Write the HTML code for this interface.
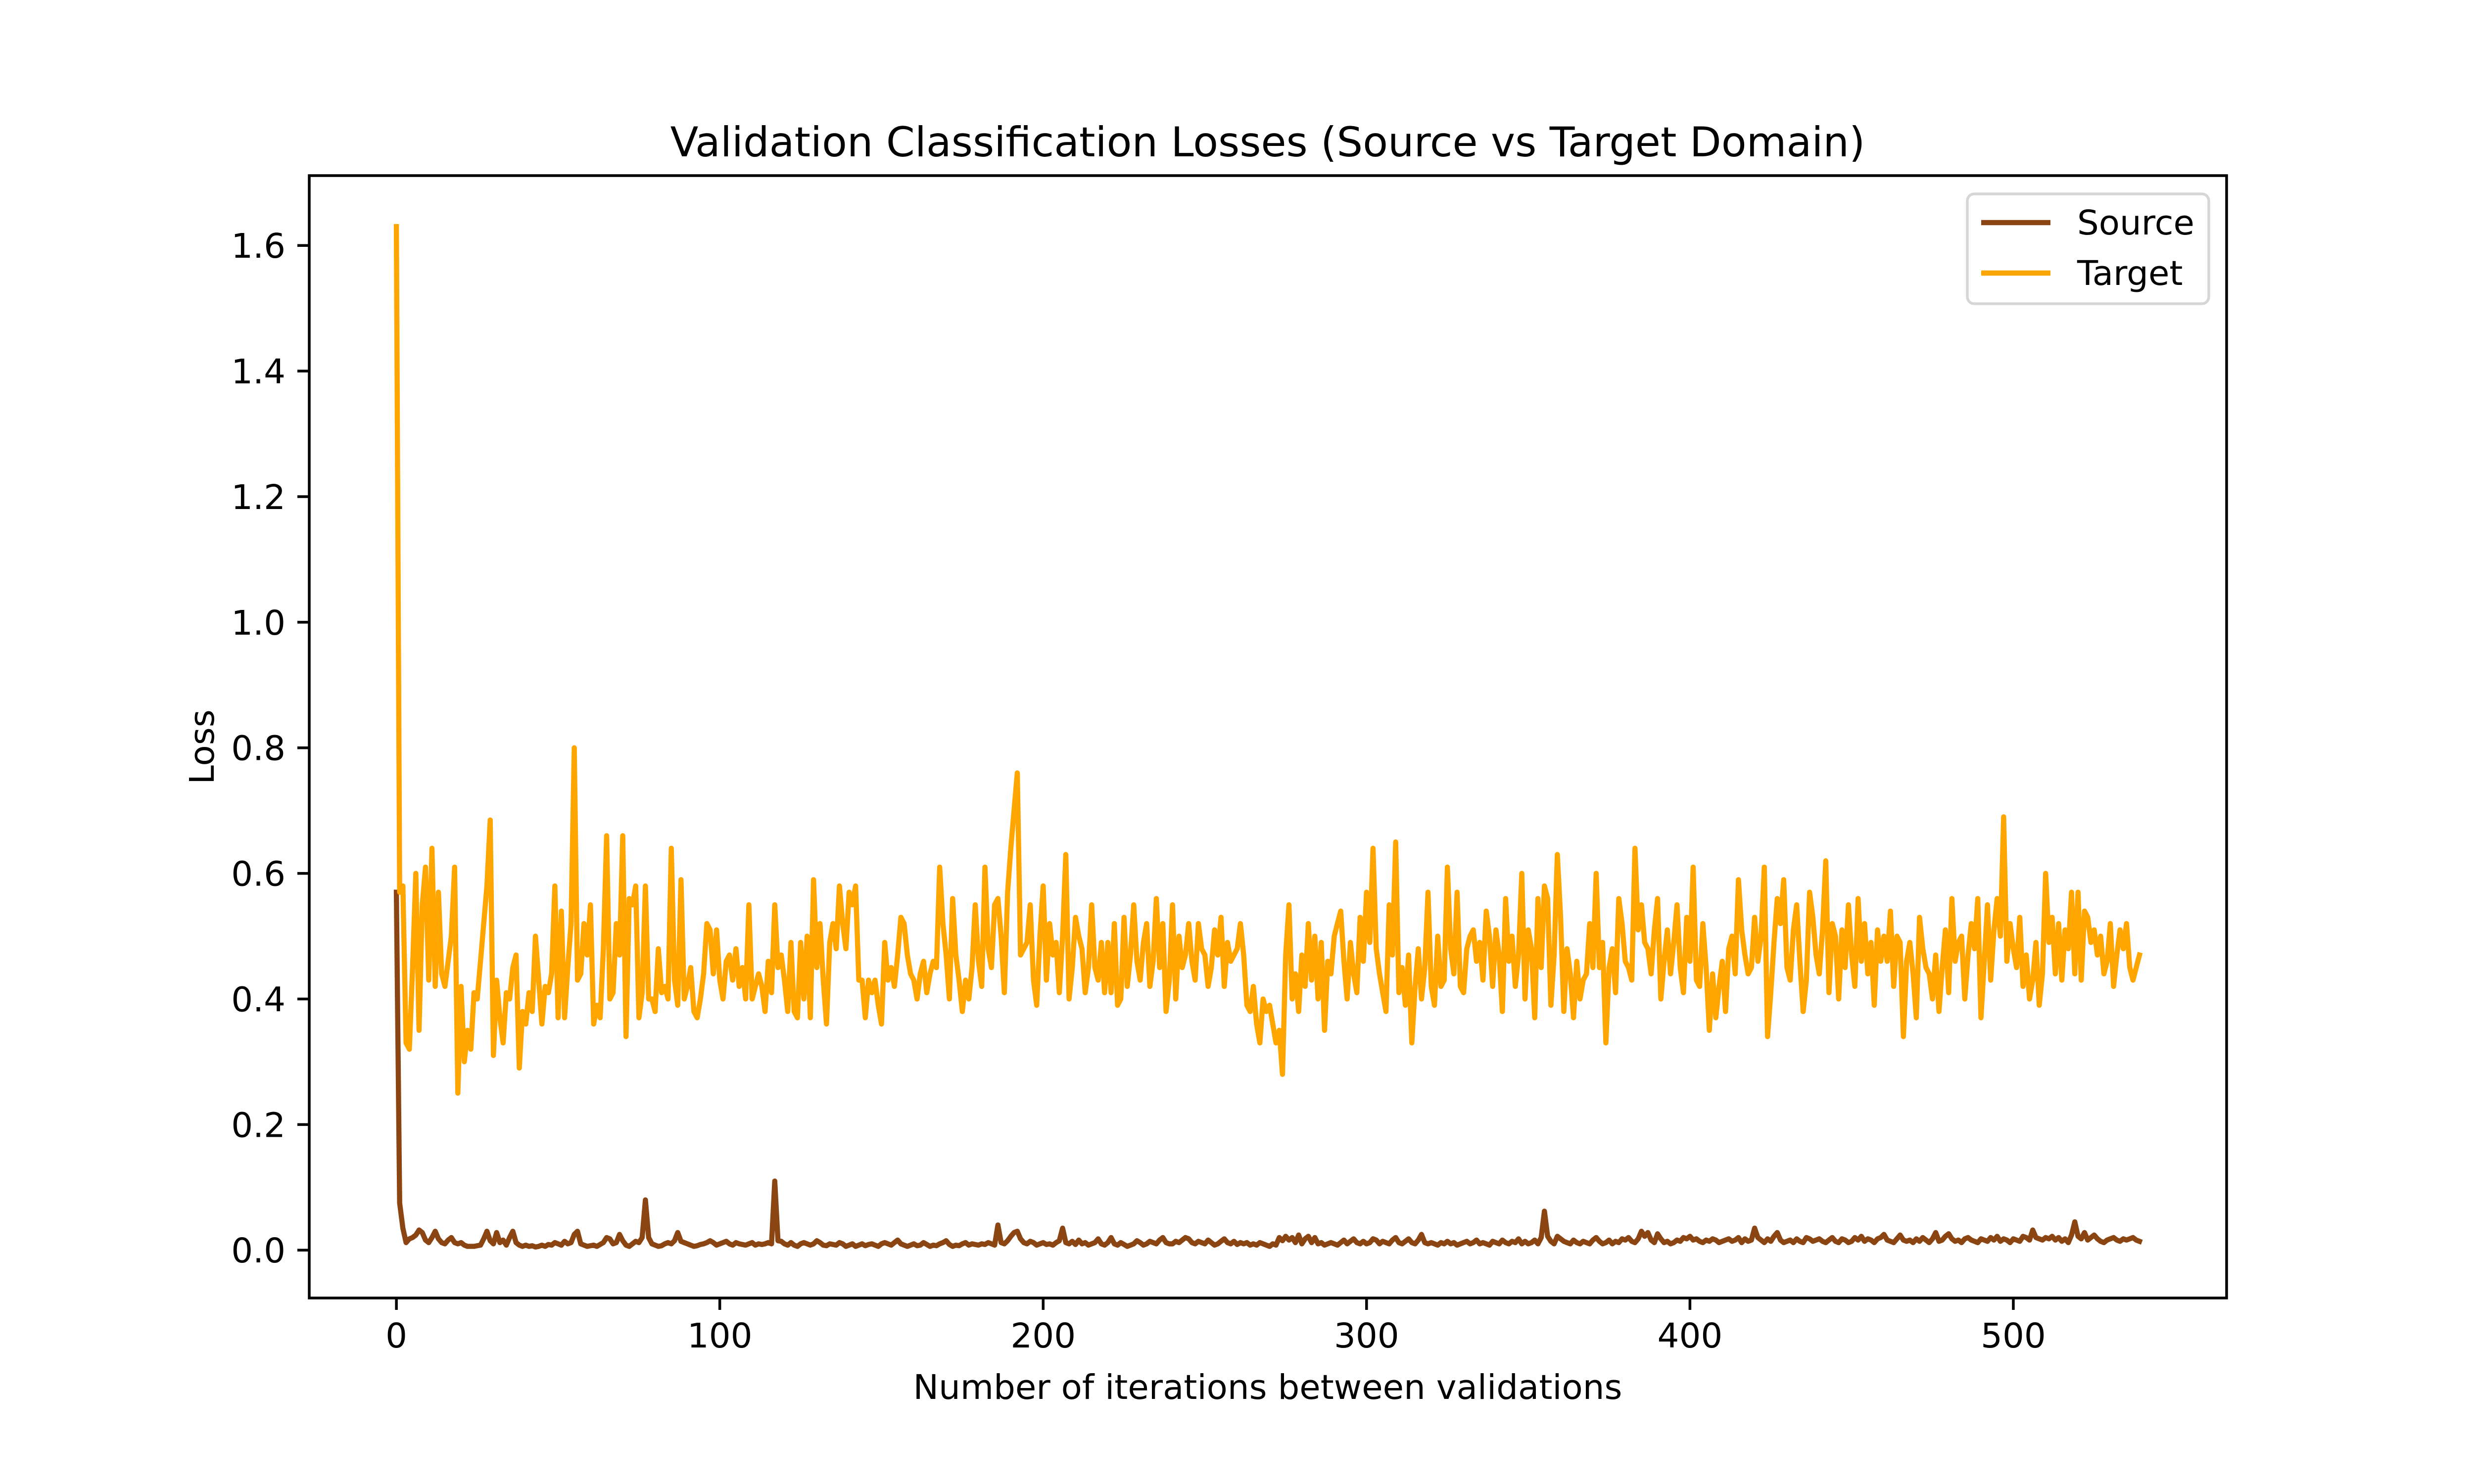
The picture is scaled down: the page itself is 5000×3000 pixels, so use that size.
<!DOCTYPE html>
<html><head><meta charset="utf-8">
<style>
html,body{margin:0;padding:0;background:#fff;}
svg{display:block;font-family:"DejaVu Sans","Liberation Sans",sans-serif;}
</style></head>
<body>
<svg id="chart" width="5000" height="3000" viewBox="0 0 5000 3000" xmlns="http://www.w3.org/2000/svg">
<rect width="5000" height="3000" fill="#fff"/>
<text x="2562" y="316" font-size="83" text-anchor="middle">Validation Classification Losses (Source vs Target Domain)</text>
<g id="plot"></g>
<text x="2562" y="2828" font-size="69" text-anchor="middle">Number of iterations between validations</text>
<text x="0" y="0" font-size="69" text-anchor="middle" transform="translate(432,1510) rotate(-90)">Loss</text>
<g>
<rect x="3976" y="392" width="488" height="222" rx="14" fill="#fff" stroke="#d6d6d6" stroke-width="5.5"/>
<line x1="4004" y1="450" x2="4144" y2="450" stroke="#8B4513" stroke-width="10.4"/>
<text x="4198" y="474" font-size="69">Source</text>
<line x1="4004" y1="552" x2="4144" y2="552" stroke="#FFA500" stroke-width="10.4"/>
<text x="4198" y="576" font-size="69">Target</text>
</g>
</svg>
<script>
const xTicks = [0,100,200,300,400,500];
const yTicks = [0.0,0.2,0.4,0.6,0.8,1.0,1.2,1.4,1.6];
const yTickLabels = ["0.0","0.2","0.4","0.6","0.8","1.0","1.2","1.4","1.6"];
const targetLoss = [
1.63,0.57,0.58,0.33,0.32,0.45,0.60,0.35,0.55,0.61,0.43,0.64,0.42,0.57,0.44,0.42,0.46,0.50,0.61,0.25,
0.42,0.30,0.35,0.32,0.41,0.40,0.46,0.52,0.58,0.685,0.31,0.43,0.37,0.33,0.41,0.40,0.45,0.47,0.29,0.38,
0.36,0.41,0.38,0.50,0.43,0.36,0.42,0.41,0.44,0.58,0.37,0.54,0.37,0.45,0.52,0.80,0.43,0.44,0.52,0.47,
0.55,0.36,0.39,0.37,0.48,0.66,0.40,0.41,0.52,0.47,0.66,0.34,0.56,0.55,0.58,0.37,0.41,0.58,0.40,0.40,
0.38,0.48,0.41,0.42,0.40,0.64,0.43,0.39,0.59,0.40,0.42,0.45,0.38,0.37,0.40,0.44,0.52,0.51,0.44,0.51,
0.43,0.40,0.46,0.47,0.43,0.48,0.42,0.45,0.40,0.55,0.40,0.42,0.44,0.42,0.38,0.46,0.41,0.55,0.45,0.47,
0.43,0.38,0.49,0.38,0.37,0.49,0.40,0.50,0.37,0.59,0.45,0.52,0.43,0.36,0.49,0.52,0.48,0.58,0.52,0.48,
0.57,0.55,0.58,0.43,0.43,0.37,0.43,0.41,0.43,0.39,0.36,0.49,0.43,0.45,0.42,0.47,0.53,0.52,0.47,0.44,
0.43,0.40,0.44,0.46,0.41,0.44,0.46,0.45,0.61,0.52,0.47,0.40,0.56,0.47,0.43,0.38,0.43,0.40,0.45,0.55,
0.46,0.42,0.61,0.48,0.45,0.55,0.56,0.50,0.41,0.57,0.64,0.70,0.76,0.47,0.48,0.49,0.55,0.43,0.39,0.50,
0.58,0.43,0.52,0.47,0.49,0.41,0.50,0.63,0.40,0.45,0.53,0.50,0.48,0.41,0.45,0.55,0.45,0.43,0.49,0.41,
0.49,0.41,0.52,0.39,0.40,0.53,0.42,0.47,0.55,0.46,0.43,0.49,0.52,0.42,0.46,0.56,0.45,0.52,0.38,0.43,
0.55,0.40,0.50,0.45,0.47,0.52,0.46,0.43,0.52,0.48,0.47,0.42,0.45,0.51,0.47,0.53,0.42,0.49,0.46,0.47,
0.48,0.52,0.47,0.39,0.38,0.42,0.36,0.33,0.40,0.38,0.39,0.36,0.33,0.35,0.28,0.47,0.55,0.40,0.44,0.38,
0.47,0.42,0.52,0.43,0.50,0.40,0.49,0.35,0.46,0.44,0.50,0.52,0.54,0.46,0.40,0.49,0.44,0.41,0.53,0.46,
0.57,0.49,0.64,0.48,0.44,0.41,0.38,0.55,0.47,0.65,0.41,0.45,0.39,0.47,0.33,0.42,0.48,0.40,0.45,0.57,
0.42,0.39,0.50,0.42,0.43,0.61,0.48,0.44,0.57,0.42,0.41,0.48,0.50,0.51,0.46,0.49,0.43,0.54,0.50,0.42,
0.51,0.47,0.38,0.56,0.46,0.50,0.42,0.47,0.60,0.40,0.51,0.48,0.37,0.56,0.45,0.58,0.56,0.39,0.47,0.63,
0.53,0.38,0.48,0.44,0.37,0.46,0.40,0.43,0.44,0.52,0.45,0.60,0.45,0.49,0.33,0.45,0.48,0.41,0.56,0.52,
0.46,0.45,0.43,0.64,0.51,0.55,0.49,0.48,0.44,0.51,0.56,0.40,0.46,0.51,0.44,0.49,0.55,0.45,0.41,0.53,
0.46,0.61,0.43,0.42,0.52,0.45,0.35,0.44,0.37,0.42,0.46,0.38,0.48,0.50,0.44,0.59,0.51,0.47,0.44,0.45,
0.53,0.46,0.50,0.61,0.34,0.41,0.49,0.56,0.52,0.59,0.45,0.43,0.51,0.55,0.46,0.38,0.43,0.57,0.53,0.47,
0.44,0.51,0.62,0.41,0.52,0.50,0.40,0.51,0.45,0.55,0.47,0.42,0.56,0.46,0.52,0.44,0.49,0.39,0.51,0.46,
0.50,0.46,0.54,0.42,0.50,0.49,0.34,0.46,0.49,0.44,0.37,0.53,0.48,0.45,0.44,0.40,0.47,0.38,0.45,0.51,
0.41,0.56,0.46,0.49,0.50,0.40,0.47,0.52,0.48,0.56,0.37,0.46,0.55,0.43,0.51,0.56,0.50,0.69,0.46,0.52,
0.48,0.45,0.53,0.42,0.47,0.40,0.43,0.49,0.39,0.44,0.60,0.49,0.53,0.44,0.52,0.43,0.51,0.48,0.57,0.44,
0.57,0.43,0.54,0.53,0.49,0.51,0.47,0.50,0.44,0.46,0.52,0.42,0.47,0.51,0.48,0.52,0.45,0.43,0.45,0.47
];
const sourceLoss = [
.57,.075,.035,.012,.018,.02,.024,.032,.028,.016,.012,.02,.03,.018,.012,.01,.016,.02,.012,.01,
.012,.008,.006,.006,.006,.007,.008,.018,.03,.015,.01,.028,.012,.016,.008,.02,.03,.012,.008,.006,
.008,.006,.007,.005,.006,.008,.006,.009,.008,.012,.01,.008,.014,.01,.012,.025,.03,.01,.008,.006,
.007,.008,.006,.009,.012,.02,.018,.01,.012,.025,.015,.008,.006,.01,.014,.012,.02,.08,.02,.01,
.008,.006,.007,.01,.012,.01,.015,.028,.014,.012,.01,.008,.006,.007,.009,.01,.012,.015,.012,.008,
.01,.012,.014,.01,.008,.012,.01,.009,.008,.01,.012,.008,.01,.009,.01,.012,.01,.11,.015,.014,
.01,.008,.012,.008,.006,.01,.012,.01,.008,.01,.015,.012,.008,.007,.01,.009,.008,.012,.01,.006,
.008,.01,.006,.008,.01,.007,.009,.01,.008,.006,.01,.012,.01,.008,.012,.016,.01,.008,.006,.008,
.01,.007,.008,.012,.009,.006,.008,.007,.01,.012,.015,.009,.006,.008,.007,.01,.012,.008,.01,.009,
.008,.01,.009,.012,.01,.008,.04,.012,.01,.015,.022,.028,.03,.018,.012,.01,.014,.012,.008,.01,
.012,.009,.01,.008,.012,.015,.035,.012,.01,.014,.009,.016,.01,.012,.008,.01,.012,.018,.01,.008,
.012,.02,.01,.008,.012,.009,.006,.008,.01,.015,.012,.008,.01,.014,.012,.01,.016,.02,.012,.01,
.01,.014,.012,.016,.02,.018,.012,.01,.014,.012,.01,.016,.012,.008,.01,.014,.018,.012,.01,.014,
.009,.012,.01,.012,.008,.01,.008,.012,.01,.008,.006,.01,.008,.02,.015,.022,.016,.02,.012,.024,
.01,.018,.022,.012,.02,.01,.012,.008,.01,.012,.01,.008,.012,.016,.01,.014,.018,.012,.01,.014,
.01,.012,.018,.016,.01,.014,.012,.01,.016,.02,.012,.01,.014,.018,.012,.01,.016,.025,.012,.01,
.012,.01,.008,.012,.01,.014,.01,.012,.008,.01,.012,.014,.01,.012,.016,.01,.012,.01,.008,.014,
.012,.01,.016,.012,.01,.014,.012,.018,.01,.014,.01,.012,.016,.01,.02,.062,.022,.014,.01,.022,
.018,.014,.012,.01,.016,.012,.01,.014,.012,.01,.016,.02,.014,.01,.012,.016,.01,.014,.012,.018,
.016,.02,.014,.012,.018,.03,.022,.028,.016,.012,.026,.018,.012,.014,.01,.012,.016,.014,.02,.018,
.022,.016,.018,.014,.012,.016,.014,.018,.016,.012,.014,.016,.018,.014,.016,.02,.012,.018,.014,.016,
.035,.02,.016,.012,.018,.014,.022,.028,.016,.012,.014,.016,.012,.018,.014,.012,.02,.018,.014,.016,
.018,.014,.012,.016,.02,.014,.012,.018,.016,.012,.014,.02,.016,.022,.014,.018,.016,.012,.018,.02,
.025,.016,.014,.012,.018,.024,.016,.014,.016,.012,.018,.014,.02,.016,.012,.018,.028,.014,.016,.022,
.026,.018,.014,.016,.012,.018,.02,.016,.014,.012,.018,.016,.014,.02,.016,.022,.014,.018,.016,.012,
.018,.016,.014,.022,.02,.016,.032,.02,.018,.016,.02,.018,.022,.016,.02,.014,.018,.012,.024,.045,
.022,.018,.028,.016,.02,.024,.018,.014,.012,.016,.018,.02,.016,.014,.018,.016,.018,.02,.016,.014
];

const NS = "http://www.w3.org/2000/svg";
const L = 625, R = 4500, T = 355, B = 2624;
const n = Math.max(targetLoss.length, sourceLoss.length);
const xmin = -0.05 * (n - 1), xmax = (n - 1) * 1.05;
const allv = targetLoss.concat(sourceLoss);
const dmin = Math.min(...allv), dmax = Math.max(...allv);
const ymin = dmin - 0.05 * (dmax - dmin), ymax = dmax + 0.05 * (dmax - dmin);
function sx(v){ return L + (v - xmin) / (xmax - xmin) * (R - L); }
function sy(v){ return B - (v - ymin) / (ymax - ymin) * (B - T); }
const plot = document.getElementById('plot');
function mk(tag, attrs){ const e = document.createElementNS(NS, tag); for (const k in attrs) e.setAttribute(k, attrs[k]); plot.appendChild(e); return e; }

function drawSeries(arr, color, name){
  const pts = arr.map((v,i)=> sx(i).toFixed(1)+","+sy(v).toFixed(1)).join(" ");
  const p = mk('polyline', {points: pts, fill: 'none', stroke: color, 'stroke-width': 10.4, 'stroke-linejoin': 'round', 'stroke-linecap': 'square'});
  
  
}
drawSeries(sourceLoss, '#8B4513', 'source-line');
drawSeries(targetLoss, '#FFA500', 'target-line');

const fr = mk('rect', {x: L, y: T, width: R - L, height: B - T, fill: 'none', stroke: '#000', 'stroke-width': 5.5});



xTicks.forEach(t => {
  const x = sx(t);
  const tk = mk('line', {x1: x, y1: B, x2: x, y2: B + 24, stroke: '#000', 'stroke-width': 5.5});
  
  
  const lb = mk('text', {x: x, y: B + 100, 'font-size': 69, 'text-anchor': 'middle'});
  lb.textContent = String(t);
  
  
});
yTicks.forEach((t, i) => {
  const y = sy(t);
  const tk = mk('line', {x1: L - 24, y1: y, x2: L, y2: y, stroke: '#000', 'stroke-width': 5.5});
  
  
  const lb = mk('text', {x: L - 48, y: y + 25, 'font-size': 69, 'text-anchor': 'end'});
  lb.textContent = yTickLabels[i];
  
  
});
</script>
</body></html>
